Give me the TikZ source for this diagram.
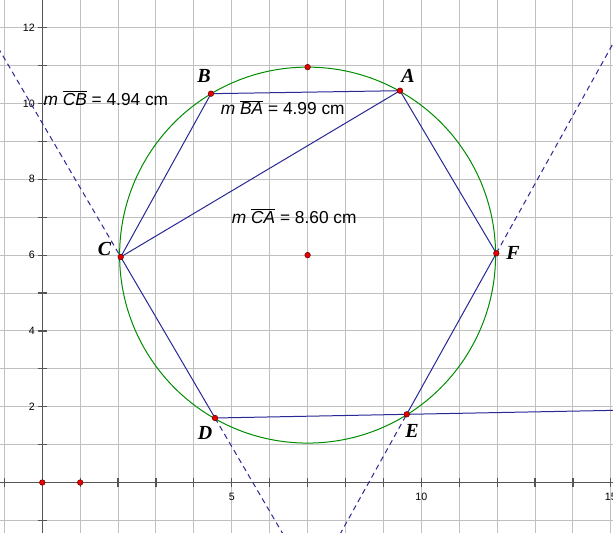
\documentclass[tikz,border=0pt]{standalone}
\usepackage{fontspec}
\setmainfont{Liberation Sans}
\newfontfamily\lblfont{Liberation Serif}
\usetikzlibrary{calc}
\definecolor{gridgray}{RGB}{192,192,192}
\definecolor{axisgray}{RGB}{85,85,85}
\definecolor{segblue}{RGB}{40,40,150}
\definecolor{circgreen}{RGB}{0,140,0}
\definecolor{ptred}{RGB}{235,0,0}
\begin{document}
\begin{tikzpicture}[x=1cm,y=1cm,
  gridline/.style={gridgray, line width=0.75pt},
  axisline/.style={axisgray, line width=1.1pt},
  tickline/.style={axisgray, line width=0.9pt},
  seg/.style={segblue, line width=0.75pt},
  extline/.style={segblue, line width=0.75pt, dash pattern=on 4pt off 3pt},
  circ/.style={circgreen, line width=0.75pt},
  pt/.style={circle, fill=ptred, draw=black!60!red, line width=0.4pt, inner sep=0pt, minimum size=4.2pt},
  ptlabel/.style={font=\lblfont\bfseries\itshape\fontsize{15}{15}\selectfont, inner sep=0pt},
  meas/.style={font=\fontsize{13}{15}\selectfont, inner sep=0pt, anchor=base west},
  ticklbl/.style={font=\fontsize{8}{9}\selectfont, inner sep=0pt}
]
\useasboundingbox (-1.116,-1.306) rectangle (15.058,12.731);
\begin{scope}
\clip (-1.116,-1.306) rectangle (15.058,12.731);
\fill[white] (-1.116,-1.306) rectangle (15.058,12.731);
% grid
\foreach \x in {-1,...,15} \draw[gridline] (\x,-1.4) -- (\x,12.8);
\foreach \y in {-1,...,12} \draw[gridline] (-1.2,\y) -- (15.1,\y);
% axes
\coordinate (xl) at (-1.2,0);
\coordinate (xr) at (15.1,0);
\coordinate (yb) at (0,-1.4);
\coordinate (yt) at (0,12.8);
\draw[axisline] (xl) -- (xr);
\draw[axisline] (yb) -- (yt);
\foreach \x in {-1,...,15} \draw[tickline] (\x,-0.12) -- (\x,0.12);
\foreach \y in {-1,...,12} \draw[tickline] (-0.12,\y) -- (0.12,\y);
\foreach \x in {5,10,15} \node[ticklbl] (xt\x) at (\x,-0.37) {\x};
\foreach \y in {2,4,6,8,10,12} \node[ticklbl, anchor=east] (yt\y) at (-0.19,\y) {\y};
% points
\coordinate (O) at (7,6);
\coordinate (T) at (7,10.96);
\coordinate (A) at (9.438,10.338);
\coordinate (B) at (4.451,10.259);
\coordinate (C) at (2.069,5.950);
\coordinate (D) at (4.557,1.702);
\coordinate (E) at (9.615,1.799);
\coordinate (F) at (11.979,6.047);
\coordinate (P0) at (0,0);
\coordinate (P1) at (1,0);
% circle
\draw[circ] (O) circle (4.96);
% extended lines
\draw[extline] ($(C)!-1.6!(D)$) -- (C);
\draw[extline] (D) -- ($(C)!2.1!(D)$);
\draw[extline] ($(E)!-1!(F)$) -- (E);
\draw[extline] (F) -- ($(E)!2.8!(F)$);
\draw[seg] (E) -- ($(D)!2.3!(E)$);
% polygon
\draw[seg] (A) -- (B) -- (C) -- (D) -- (E) -- (F) -- (A);
\draw[seg] (C) -- (A);
% dots
\foreach \p in {A,B,C,D,E,F,O,T,P0,P1} \node[pt] (dot\p) at (\p) {};
% labels
\node[ptlabel] (lA) at (9.649,10.739) {A};
\node[ptlabel] (lB) at (4.267,10.726) {B};
\node[ptlabel] (lC) at (1.641,6.161) {C};
\node[ptlabel] (lD) at (4.293,1.306) {D};
\node[ptlabel] (lE) at (9.755,1.359) {E};
\node[ptlabel] (lF) at (12.42,6.055) {F};
\node[meas] (mCB) at (0.026,9.947) {\textit{m} $\overline{\hbox{\itshape CB}}$ = 4.94 cm};
\node[meas] (mBA) at (4.707,9.697) {\textit{m} $\overline{\hbox{\itshape BA}}$ = 4.99 cm};
\node[meas] (mCA) at (4.997,6.839) {\textit{m} $\overline{\hbox{\itshape CA}}$ = 8.60 cm};
\end{scope}
\end{tikzpicture}
\end{document}
